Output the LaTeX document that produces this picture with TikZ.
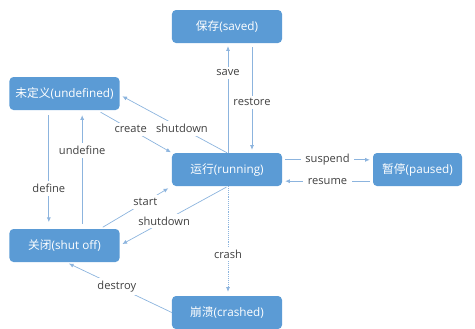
\documentclass[tikz,border=0pt]{standalone}
\usepackage{fontspec}
\setmainfont{Open Sans}
\newfontfamily\cjk{Noto Sans CJK SC}
\usetikzlibrary{arrows.meta}
\definecolor{boxblue}{RGB}{91,155,213}
\definecolor{lineblue}{RGB}{140,180,222}
\definecolor{lblgray}{RGB}{64,64,64}
\begin{document}
\begin{tikzpicture}[x=0.03cm, y=-0.03cm,
  state/.style={rectangle, rounded corners=0.12cm, fill=boxblue, text=white, minimum width=3.3cm, minimum height=0.99cm, inner sep=0pt, font=\fontsize{10}{12}\selectfont},
  edge/.style={draw=lineblue, line width=0.6pt, -{Latex[length=4pt,width=3.5pt]}, shorten >=0.09cm},
  lbl/.style={fill=white, text=lblgray, inner xsep=4pt, inner ysep=2.5pt, font=\fontsize{9.5}{11}\selectfont}]
\useasboundingbox (0,0) rectangle (475,328);
\node[state] (saved) at (227,26.5){{\cjk 保存}(saved)};
\node[state] (undefined) at (64.5,93.5){{\cjk 未定义}(undefined)};
\node[state] (running) at (227,169.5){{\cjk 运行}(running)};
\node[state, minimum width=2.67cm] (paused) at (417.5,169.5){{\cjk 暂停}(paused)};
\node[state] (shutoff) at (64.5,245.5){{\cjk 关闭}(shut off)};
\node[state] (crashed) at (227,312.5){{\cjk 崩溃}(crashed)};
\draw[edge] ([xshift=0.03cm]running.north) -- node[lbl, pos=0.73]{save} ([xshift=0.03cm]saved.south);
\draw[edge, shorten <=0.12cm] ([xshift=0.75cm]saved.south) -- node[lbl, pos=0.54]{restore} ([xshift=0.75cm]running.north);
\draw[edge] (running.north) -- node[lbl, pos=0.42]{shutdown} ([yshift=-0.04cm]undefined.east);
\draw[edge, shorten <=0.12cm, shorten >=0.03cm] ([xshift=0.98cm]undefined.south) -- node[lbl, pos=0.45]{create} (running.north west);
\draw[edge, shorten <=0.15cm, shorten >=0.15cm] ([xshift=0.53cm]shutoff.north) -- node[lbl, pos=0.66]{undefine} ([xshift=0.53cm]undefined.south);
\draw[edge, shorten <=0.15cm, shorten >=0.2cm] ([xshift=-0.47cm]undefined.south) -- node[lbl, pos=0.66]{define} ([xshift=-0.47cm]shutoff.north);
\draw[edge, shorten <=0.09cm, shorten >=0.12cm] ([xshift=1.07cm]shutoff.north) -- node[lbl, pos=0.63]{start} (running.south west);
\draw[edge, shorten <=0.05cm] ([xshift=0.03cm]running.south) -- node[lbl, pos=0.59]{shutdown} (shutoff.east);
\draw[edge, densely dotted, shorten >=0.12cm] ([xshift=0.03cm]running.south) -- node[lbl, pos=0.62]{crash} ([xshift=0.03cm]crashed.north);
\draw[edge] (crashed.west) -- node[lbl, pos=0.52]{destroy} ([xshift=0.05cm]shutoff.south);
\draw[edge, shorten <=0.09cm] ([yshift=0.29cm]running.east) -- node[lbl, pos=0.5]{suspend} ([yshift=0.29cm]paused.west);
\draw[edge, shorten <=0.09cm] ([yshift=-0.35cm]paused.west) -- node[lbl, pos=0.5]{resume} ([yshift=-0.35cm]running.east);
\end{tikzpicture}
\end{document}
